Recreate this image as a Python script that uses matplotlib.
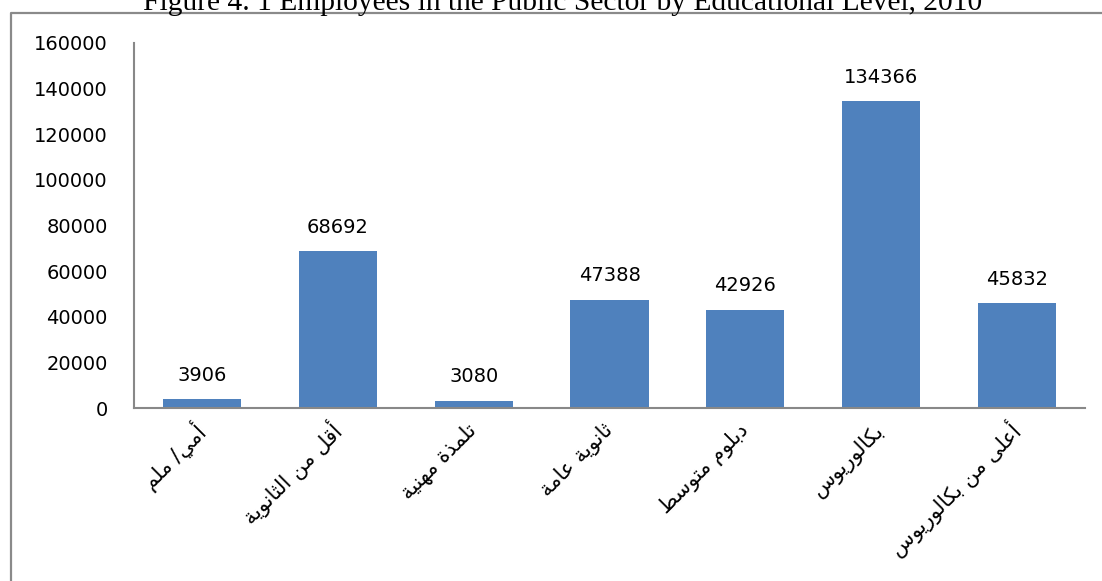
import matplotlib
matplotlib.use("Agg")
import matplotlib.pyplot as plt
from matplotlib.lines import Line2D

categories = ["أمي/ ملم", "أقل من الثانوية", "تلمذة مهنية", "ثانوية عامة",
              "دبلوم متوسط", "بكالوريوس", "أعلى من بكالوريوس"]
values = [3906, 68692, 3080, 47388, 42926, 134366, 45832]
y_ticks = [0, 20000, 40000, 60000, 80000, 100000, 120000, 140000, 160000]
title = "Figure 4. 1 Employees in the Public Sector by Educational Level, 2010"

# --- minimal Arabic shaping (presentation forms B) + RTL reordering ---
FORMS = {  # isolated, final, initial, medial
    'ا': (0xFE8D, 0xFE8E, None, None), 'أ': (0xFE83, 0xFE84, None, None),
    'ب': (0xFE8F, 0xFE90, 0xFE91, 0xFE92), 'ة': (0xFE93, 0xFE94, None, None),
    'ت': (0xFE95, 0xFE96, 0xFE97, 0xFE98), 'ث': (0xFE99, 0xFE9A, 0xFE9B, 0xFE9C),
    'د': (0xFEA9, 0xFEAA, None, None), 'ذ': (0xFEAB, 0xFEAC, None, None),
    'ر': (0xFEAD, 0xFEAE, None, None), 'س': (0xFEB1, 0xFEB2, 0xFEB3, 0xFEB4),
    'ط': (0xFEC1, 0xFEC2, 0xFEC3, 0xFEC4), 'ع': (0xFEC9, 0xFECA, 0xFECB, 0xFECC),
    'ق': (0xFED5, 0xFED6, 0xFED7, 0xFED8), 'ك': (0xFED9, 0xFEDA, 0xFEDB, 0xFEDC),
    'ل': (0xFEDD, 0xFEDE, 0xFEDF, 0xFEE0), 'م': (0xFEE1, 0xFEE2, 0xFEE3, 0xFEE4),
    'ن': (0xFEE5, 0xFEE6, 0xFEE7, 0xFEE8), 'ه': (0xFEE9, 0xFEEA, 0xFEEB, 0xFEEC),
    'و': (0xFEED, 0xFEEE, None, None), 'ى': (0xFEEF, 0xFEF0, None, None),
    'ي': (0xFEF1, 0xFEF2, 0xFEF3, 0xFEF4),
}


def dual(c):
    return c in FORMS and FORMS[c][2] is not None


def shape(s):
    out = []
    for i, c in enumerate(s):
        if c not in FORMS:
            out.append(c)
            continue
        prev_c = s[i - 1] if i > 0 else ''
        next_c = s[i + 1] if i + 1 < len(s) else ''
        cp = dual(prev_c)
        cn = dual(c) and next_c in FORMS
        f = FORMS[c]
        if cp and cn:
            code = f[3]
        elif cp:
            code = f[1]
        elif cn:
            code = f[2]
        else:
            code = f[0]
        out.append(chr(code))
    return ''.join(out)[::-1]


W, H = 1102, 581
fig = plt.figure(figsize=(W / 100, H / 100), dpi=100)
ax = fig.add_axes([134 / W, 1 - 408 / H, (1085 - 134) / W, (408 - 43) / H])

x = list(range(len(values)))
bars = ax.bar(x, values, width=0.575, color="#4F81BD", zorder=2)
for xi, v in zip(x, values):
    ax.annotate(str(v), (xi, v), xytext=(0, 10.5), textcoords="offset points",
                ha="center", va="bottom", fontsize=14, family="DejaVu Sans",
                color="#000000")

ax.set_xlim(-0.5, len(values) - 0.5)
ax.set_ylim(0, 160000)
ax.set_yticks(y_ticks)
ax.set_yticklabels([str(t) for t in y_ticks], fontsize=14, family="DejaVu Sans")
ax.tick_params(axis="y", length=0, pad=19)
ax.set_xticks(x)
ax.set_xticklabels([shape(c) for c in categories], rotation=45, ha="right",
                   va="center", rotation_mode="anchor", fontsize=15,
                   family="DejaVu Sans")
ax.tick_params(axis="x", length=0, pad=14)
for s in ["top", "right"]:
    ax.spines[s].set_visible(False)
for s in ["left", "bottom"]:
    ax.spines[s].set_color("#888888")
    ax.spines[s].set_linewidth(1.5)

# outer frame
fx, fy = 10.7 / W, 1 - 12.7 / H
fig.add_artist(Line2D([fx, fx, 1.0], [0.0, fy, fy], transform=fig.transFigure,
                      color="#8a8a8a", linewidth=1.6))

# title (clipped at top in reference)
t = fig.text(563 / W, 1 - 10 / H, title, ha="center", va="baseline",
             family="Liberation Serif", fontsize=20)
fig.canvas.draw()
w = t.get_window_extent().width
t.set_fontsize(20 * 841 / w)

fig.savefig("out.png", dpi=100)
